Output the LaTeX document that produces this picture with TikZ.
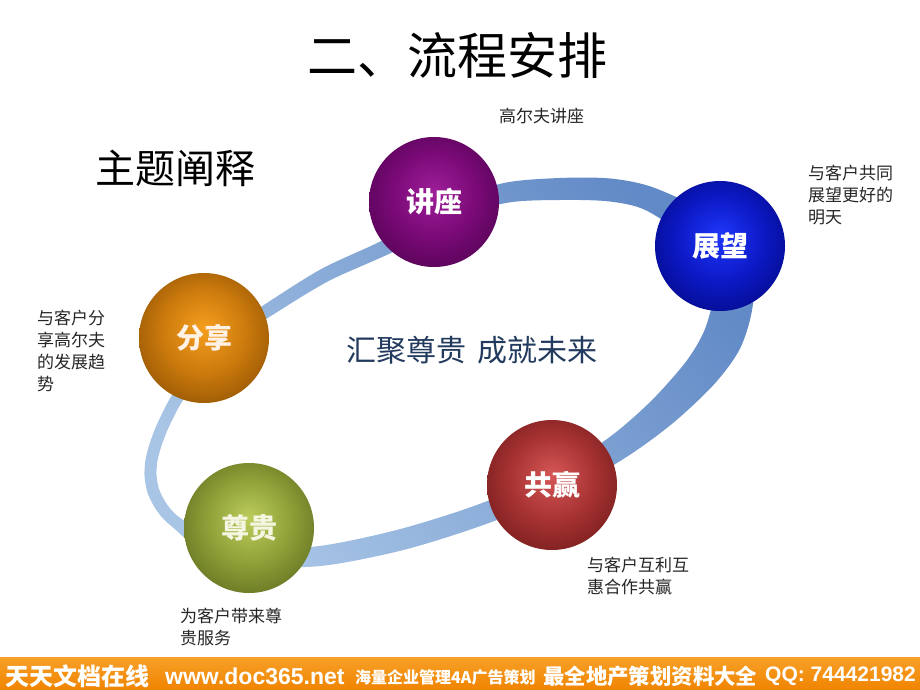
\documentclass[tikz,border=0pt]{standalone}
\usepackage{fontspec}
\setmainfont{Noto Sans CJK SC}
\newfontfamily\arialf{Liberation Sans}
\definecolor{ringDark}{RGB}{98,138,198}
\definecolor{ringLight}{RGB}{168,197,230}
\definecolor{sloganC}{RGB}{34,58,94}
\definecolor{footO}{RGB}{240,132,0}
\definecolor{footL}{RGB}{247,160,40}
\pgfdeclareradialshading{shJZ}{\pgfpoint{0bp}{4bp}}{rgb(0bp)=(0.62,0.12,0.60); rgb(16bp)=(0.48,0.04,0.47); rgb(36bp)=(0.28,0,0.28); rgb(50bp)=(0.13,0,0.13)}
\pgfdeclareradialshading{shZW}{\pgfpoint{0bp}{4bp}}{rgb(0bp)=(0.12,0.22,0.98); rgb(16bp)=(0.05,0.10,0.78); rgb(36bp)=(0.0,0.02,0.46); rgb(50bp)=(0,0,0.24)}
\pgfdeclareradialshading{shFX}{\pgfpoint{0bp}{4bp}}{rgb(0bp)=(0.96,0.62,0.12); rgb(16bp)=(0.80,0.48,0.05); rgb(36bp)=(0.50,0.28,0.0); rgb(50bp)=(0.27,0.14,0)}
\pgfdeclareradialshading{shZG}{\pgfpoint{0bp}{4bp}}{rgb(0bp)=(0.74,0.80,0.36); rgb(16bp)=(0.56,0.63,0.22); rgb(36bp)=(0.33,0.38,0.10); rgb(50bp)=(0.17,0.19,0.04)}
\pgfdeclareradialshading{shGY}{\pgfpoint{0bp}{4bp}}{rgb(0bp)=(0.84,0.34,0.34); rgb(16bp)=(0.66,0.20,0.20); rgb(36bp)=(0.40,0.08,0.08); rgb(50bp)=(0.21,0.03,0.03)}
\tikzset{
  sphere/.style={circle, minimum size=130pt, inner sep=0pt, text=white,
    font=\fontsize{28}{28}\selectfont\bfseries},
  lbl/.style={anchor=north west, inner sep=0pt, align=left, text=black!85,
    font=\fontsize{17}{22}\selectfont},
  foot/.style={anchor=west, inner sep=0pt, text=white},
}
\begin{document}
\begin{tikzpicture}[x=1pt,y=-1pt]
\useasboundingbox (0,0) rectangle (920,690);
\fill[white] (0,0) rectangle (920,690);
% ring
\shade[even odd rule, top color=ringDark, bottom color=ringLight, shading angle=-50]
  plot[smooth cycle] coordinates {(144.5,475.3) (145.6,459) (149.8,443.2) (155.5,427.7) (162.7,412.3) (170.7,397.2) (189.8,367.1) (210.6,340.3) (261.5,306.5) (321.7,268.8) (386.5,238.3) (441.3,203.8) (503,183.2) (559.7,178) (611.3,178.6) (654.3,187.8) (709.8,215.4) (751.9,259.5) (752.6,306.6) (740,348.6) (713.9,384.5) (672.4,423.5) (625.4,457.7) (564.8,491.9) (483.6,524.9) (402.6,550.2) (321.3,565.9) (249,565.9) (201.1,550) (173.4,527.8) (162.6,518) (153.8,506) (147.2,491.7)}
  plot[smooth cycle] coordinates {(156.5,474.7) (157.4,461) (161.2,446.8) (166.5,432.3) (173.3,417.7) (181.3,402.8) (200.2,374.9) (219.4,349.7) (268.5,317.5) (328.3,281.2) (393.5,251.7) (448.7,220.2) (507,202.8) (560.3,200) (608.7,201.4) (645.7,210.2) (690.2,240.6) (716,276.5) (713.4,299.4) (704,331.4) (686.1,361.5) (651.6,400.5) (610.6,436.3) (555.2,472.1) (476.4,505.1) (397.4,529.8) (318.7,546.1) (251,548.1) (208.9,536) (180.6,518.2) (171.4,510) (164.2,500) (158.8,488.3)};
% spheres
\node[sphere, shading=shJZ] (jz) at (434,202) {讲座};
\node[sphere, shading=shZW] (zw) at (720,246) {展望};
\node[sphere, shading=shFX, text=white!90!orange] (fx) at (204,338) {分享};
\node[sphere, shading=shZG, text=white!92!olive] (zg) at (249,528) {尊贵};
\node[sphere, shading=shGY] (gy) at (552,485) {共赢};
% titles
\node[inner sep=0pt, font=\fontsize{50}{50}\selectfont] (title) at (457,55) {二、流程安排};
\node[inner sep=0pt, font=\fontsize{40}{40}\selectfont] (theme) at (175,168) {主题阐释};
\node[inner sep=0pt, text=sloganC, font=\fontsize{30}{30}\selectfont] (slogan) at (472,350) {汇聚尊贵\hspace{0.35em}成就未来};
% labels
\node[lbl] (lbJZ) at (499,107.5) {高尔夫讲座};
\node[lbl] (lbZW) at (808,164.5) {与客户共同\\展望更好的\\明天};
\node[lbl] (lbFX) at (37,309.5) {与客户分\\享高尔夫\\的发展趋\\势};
\node[lbl] (lbGY) at (587,556.5) {与客户互利互\\惠合作共赢};
\node[lbl] (lbZG) at (180,607.5) {为客户带来尊\\贵服务};
% footer
\shade[top color=footL, bottom color=footO] (0,657) rectangle (920,690);
\node[foot, font=\fontsize{24}{24}\selectfont\bfseries] (f1) at (5,676) {天天文档在线};
\node[foot, font=\arialf\fontsize{23}{23}\selectfont\bfseries] (f2) at (165,676) {www.doc365.net};
\node[foot, font=\fontsize{16}{16}\selectfont\bfseries] (f3) at (355,677) {海量企业管理4A广告策划};
\node[foot, font=\fontsize{21.4}{22}\selectfont\bfseries] (f4) at (543,676) {最全地产策划资料大全};
\node[foot, font=\arialf\fontsize{21}{21}\selectfont\bfseries] (f5) at (765,676) {QQ: 744421982};
\end{tikzpicture}
\end{document}
